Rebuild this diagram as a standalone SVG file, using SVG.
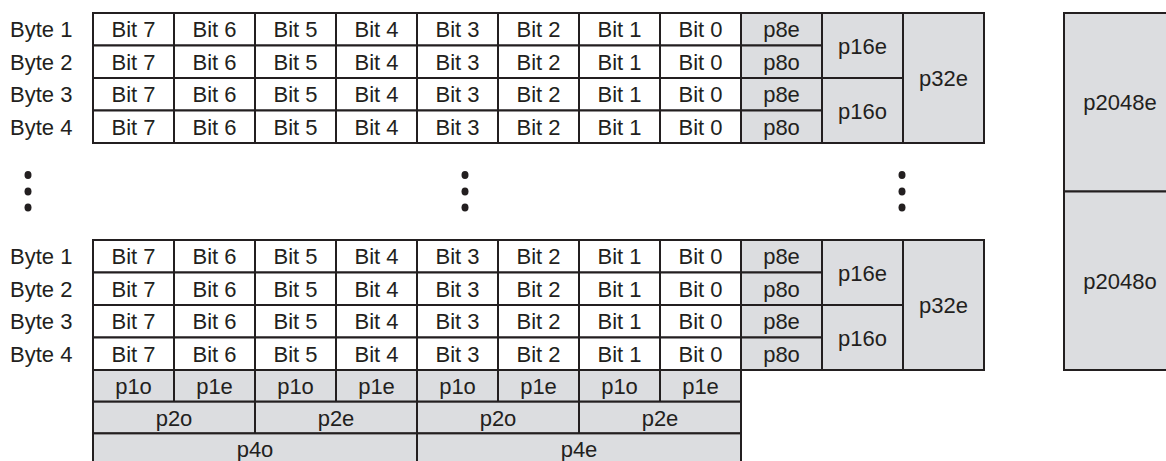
<svg xmlns="http://www.w3.org/2000/svg" width="1166" height="461" viewBox="0 0 1166 461">
<style>
.w{fill:#ffffff;stroke:#231f20;stroke-width:2}
.g{fill:#dcdde0;stroke:#231f20;stroke-width:2}
text{font-family:"Liberation Sans",Arial,sans-serif;font-size:22px;fill:#231f20}
.c{text-anchor:middle}
.d{fill:#231f20}
</style>
<rect width="1166" height="461" fill="#ffffff"/>
<g id="labels-top">
<text x="10" y="37.25">Byte 1</text>
<text x="10" y="69.75">Byte 2</text>
<text x="10" y="102.25">Byte 3</text>
<text x="10" y="134.75">Byte 4</text>
</g>
<g id="labels-bottom">
<text x="10" y="264.25">Byte 1</text>
<text x="10" y="296.75">Byte 2</text>
<text x="10" y="329.25">Byte 3</text>
<text x="10" y="361.75">Byte 4</text>
</g>
<g id="bits-top">
<rect class="w" x="93" y="13" width="81" height="32.5"/><rect class="w" x="174" y="13" width="81" height="32.5"/><rect class="w" x="255" y="13" width="81" height="32.5"/><rect class="w" x="336" y="13" width="81" height="32.5"/><rect class="w" x="417" y="13" width="81" height="32.5"/><rect class="w" x="498" y="13" width="81" height="32.5"/><rect class="w" x="579" y="13" width="81" height="32.5"/><rect class="w" x="660" y="13" width="81" height="32.5"/>
<rect class="w" x="93" y="45.5" width="81" height="32.5"/><rect class="w" x="174" y="45.5" width="81" height="32.5"/><rect class="w" x="255" y="45.5" width="81" height="32.5"/><rect class="w" x="336" y="45.5" width="81" height="32.5"/><rect class="w" x="417" y="45.5" width="81" height="32.5"/><rect class="w" x="498" y="45.5" width="81" height="32.5"/><rect class="w" x="579" y="45.5" width="81" height="32.5"/><rect class="w" x="660" y="45.5" width="81" height="32.5"/>
<rect class="w" x="93" y="78" width="81" height="32.5"/><rect class="w" x="174" y="78" width="81" height="32.5"/><rect class="w" x="255" y="78" width="81" height="32.5"/><rect class="w" x="336" y="78" width="81" height="32.5"/><rect class="w" x="417" y="78" width="81" height="32.5"/><rect class="w" x="498" y="78" width="81" height="32.5"/><rect class="w" x="579" y="78" width="81" height="32.5"/><rect class="w" x="660" y="78" width="81" height="32.5"/>
<rect class="w" x="93" y="110.5" width="81" height="32.5"/><rect class="w" x="174" y="110.5" width="81" height="32.5"/><rect class="w" x="255" y="110.5" width="81" height="32.5"/><rect class="w" x="336" y="110.5" width="81" height="32.5"/><rect class="w" x="417" y="110.5" width="81" height="32.5"/><rect class="w" x="498" y="110.5" width="81" height="32.5"/><rect class="w" x="579" y="110.5" width="81" height="32.5"/><rect class="w" x="660" y="110.5" width="81" height="32.5"/>
<text class="c" x="133.5" y="37.25">Bit 7</text><text class="c" x="214.5" y="37.25">Bit 6</text><text class="c" x="295.5" y="37.25">Bit 5</text><text class="c" x="376.5" y="37.25">Bit 4</text><text class="c" x="457.5" y="37.25">Bit 3</text><text class="c" x="538.5" y="37.25">Bit 2</text><text class="c" x="619.5" y="37.25">Bit 1</text><text class="c" x="700.5" y="37.25">Bit 0</text>
<text class="c" x="133.5" y="69.75">Bit 7</text><text class="c" x="214.5" y="69.75">Bit 6</text><text class="c" x="295.5" y="69.75">Bit 5</text><text class="c" x="376.5" y="69.75">Bit 4</text><text class="c" x="457.5" y="69.75">Bit 3</text><text class="c" x="538.5" y="69.75">Bit 2</text><text class="c" x="619.5" y="69.75">Bit 1</text><text class="c" x="700.5" y="69.75">Bit 0</text>
<text class="c" x="133.5" y="102.25">Bit 7</text><text class="c" x="214.5" y="102.25">Bit 6</text><text class="c" x="295.5" y="102.25">Bit 5</text><text class="c" x="376.5" y="102.25">Bit 4</text><text class="c" x="457.5" y="102.25">Bit 3</text><text class="c" x="538.5" y="102.25">Bit 2</text><text class="c" x="619.5" y="102.25">Bit 1</text><text class="c" x="700.5" y="102.25">Bit 0</text>
<text class="c" x="133.5" y="134.75">Bit 7</text><text class="c" x="214.5" y="134.75">Bit 6</text><text class="c" x="295.5" y="134.75">Bit 5</text><text class="c" x="376.5" y="134.75">Bit 4</text><text class="c" x="457.5" y="134.75">Bit 3</text><text class="c" x="538.5" y="134.75">Bit 2</text><text class="c" x="619.5" y="134.75">Bit 1</text><text class="c" x="700.5" y="134.75">Bit 0</text>
</g>
<g id="parity-top">
<rect class="g" x="741" y="13" width="81" height="32.5"/><rect class="g" x="741" y="45.5" width="81" height="32.5"/><rect class="g" x="741" y="78" width="81" height="32.5"/><rect class="g" x="741" y="110.5" width="81" height="32.5"/>
<rect class="g" x="822" y="13" width="81" height="65"/><rect class="g" x="822" y="78" width="81" height="65"/>
<rect class="g" x="903" y="13" width="81" height="130"/>
<text class="c" x="781.5" y="37.25">p8e</text><text class="c" x="781.5" y="69.75">p8o</text><text class="c" x="781.5" y="102.25">p8e</text><text class="c" x="781.5" y="134.75">p8o</text>
<text class="c" x="862.5" y="53.5">p16e</text><text class="c" x="862.5" y="118.5">p16o</text>
<text class="c" x="943.5" y="86">p32e</text>
</g>
<g id="bits-bottom">
<rect class="w" x="93" y="240" width="81" height="32.5"/><rect class="w" x="174" y="240" width="81" height="32.5"/><rect class="w" x="255" y="240" width="81" height="32.5"/><rect class="w" x="336" y="240" width="81" height="32.5"/><rect class="w" x="417" y="240" width="81" height="32.5"/><rect class="w" x="498" y="240" width="81" height="32.5"/><rect class="w" x="579" y="240" width="81" height="32.5"/><rect class="w" x="660" y="240" width="81" height="32.5"/>
<rect class="w" x="93" y="272.5" width="81" height="32.5"/><rect class="w" x="174" y="272.5" width="81" height="32.5"/><rect class="w" x="255" y="272.5" width="81" height="32.5"/><rect class="w" x="336" y="272.5" width="81" height="32.5"/><rect class="w" x="417" y="272.5" width="81" height="32.5"/><rect class="w" x="498" y="272.5" width="81" height="32.5"/><rect class="w" x="579" y="272.5" width="81" height="32.5"/><rect class="w" x="660" y="272.5" width="81" height="32.5"/>
<rect class="w" x="93" y="305" width="81" height="32.5"/><rect class="w" x="174" y="305" width="81" height="32.5"/><rect class="w" x="255" y="305" width="81" height="32.5"/><rect class="w" x="336" y="305" width="81" height="32.5"/><rect class="w" x="417" y="305" width="81" height="32.5"/><rect class="w" x="498" y="305" width="81" height="32.5"/><rect class="w" x="579" y="305" width="81" height="32.5"/><rect class="w" x="660" y="305" width="81" height="32.5"/>
<rect class="w" x="93" y="337.5" width="81" height="32.5"/><rect class="w" x="174" y="337.5" width="81" height="32.5"/><rect class="w" x="255" y="337.5" width="81" height="32.5"/><rect class="w" x="336" y="337.5" width="81" height="32.5"/><rect class="w" x="417" y="337.5" width="81" height="32.5"/><rect class="w" x="498" y="337.5" width="81" height="32.5"/><rect class="w" x="579" y="337.5" width="81" height="32.5"/><rect class="w" x="660" y="337.5" width="81" height="32.5"/>
<text class="c" x="133.5" y="264.25">Bit 7</text><text class="c" x="214.5" y="264.25">Bit 6</text><text class="c" x="295.5" y="264.25">Bit 5</text><text class="c" x="376.5" y="264.25">Bit 4</text><text class="c" x="457.5" y="264.25">Bit 3</text><text class="c" x="538.5" y="264.25">Bit 2</text><text class="c" x="619.5" y="264.25">Bit 1</text><text class="c" x="700.5" y="264.25">Bit 0</text>
<text class="c" x="133.5" y="296.75">Bit 7</text><text class="c" x="214.5" y="296.75">Bit 6</text><text class="c" x="295.5" y="296.75">Bit 5</text><text class="c" x="376.5" y="296.75">Bit 4</text><text class="c" x="457.5" y="296.75">Bit 3</text><text class="c" x="538.5" y="296.75">Bit 2</text><text class="c" x="619.5" y="296.75">Bit 1</text><text class="c" x="700.5" y="296.75">Bit 0</text>
<text class="c" x="133.5" y="329.25">Bit 7</text><text class="c" x="214.5" y="329.25">Bit 6</text><text class="c" x="295.5" y="329.25">Bit 5</text><text class="c" x="376.5" y="329.25">Bit 4</text><text class="c" x="457.5" y="329.25">Bit 3</text><text class="c" x="538.5" y="329.25">Bit 2</text><text class="c" x="619.5" y="329.25">Bit 1</text><text class="c" x="700.5" y="329.25">Bit 0</text>
<text class="c" x="133.5" y="361.75">Bit 7</text><text class="c" x="214.5" y="361.75">Bit 6</text><text class="c" x="295.5" y="361.75">Bit 5</text><text class="c" x="376.5" y="361.75">Bit 4</text><text class="c" x="457.5" y="361.75">Bit 3</text><text class="c" x="538.5" y="361.75">Bit 2</text><text class="c" x="619.5" y="361.75">Bit 1</text><text class="c" x="700.5" y="361.75">Bit 0</text>
</g>
<g id="parity-bottom">
<rect class="g" x="741" y="240" width="81" height="32.5"/><rect class="g" x="741" y="272.5" width="81" height="32.5"/><rect class="g" x="741" y="305" width="81" height="32.5"/><rect class="g" x="741" y="337.5" width="81" height="32.5"/>
<rect class="g" x="822" y="240" width="81" height="65"/><rect class="g" x="822" y="305" width="81" height="65"/>
<rect class="g" x="903" y="240" width="81" height="130"/>
<text class="c" x="781.5" y="264.25">p8e</text><text class="c" x="781.5" y="296.75">p8o</text><text class="c" x="781.5" y="329.25">p8e</text><text class="c" x="781.5" y="361.75">p8o</text>
<text class="c" x="862.5" y="280.5">p16e</text><text class="c" x="862.5" y="345.5">p16o</text>
<text class="c" x="943.5" y="313">p32e</text>
</g>
<g id="column-parity">
<rect class="g" x="93" y="370" width="81" height="31.7"/><rect class="g" x="174" y="370" width="81" height="31.7"/><rect class="g" x="255" y="370" width="81" height="31.7"/><rect class="g" x="336" y="370" width="81" height="31.7"/><rect class="g" x="417" y="370" width="81" height="31.7"/><rect class="g" x="498" y="370" width="81" height="31.7"/><rect class="g" x="579" y="370" width="81" height="31.7"/><rect class="g" x="660" y="370" width="81" height="31.7"/>
<rect class="g" x="93" y="401.7" width="162" height="31.7"/><rect class="g" x="255" y="401.7" width="162" height="31.7"/><rect class="g" x="417" y="401.7" width="162" height="31.7"/><rect class="g" x="579" y="401.7" width="162" height="31.7"/>
<rect class="g" x="93" y="433.4" width="324" height="40"/><rect class="g" x="417" y="433.4" width="324" height="40"/>
<text class="c" x="133.5" y="393.85">p1o</text><text class="c" x="214.5" y="393.85">p1e</text><text class="c" x="295.5" y="393.85">p1o</text><text class="c" x="376.5" y="393.85">p1e</text><text class="c" x="457.5" y="393.85">p1o</text><text class="c" x="538.5" y="393.85">p1e</text><text class="c" x="619.5" y="393.85">p1o</text><text class="c" x="700.5" y="393.85">p1e</text>
<text class="c" x="174" y="425.5">p2o</text><text class="c" x="336" y="425.5">p2e</text><text class="c" x="498" y="425.5">p2o</text><text class="c" x="660" y="425.5">p2e</text>
<text class="c" x="255" y="457.2">p4o</text><text class="c" x="579" y="457.2">p4e</text>
</g>
<g id="dots">
<ellipse class="d" cx="28" cy="175" rx="3.5" ry="4"/><ellipse class="d" cx="28" cy="191.5" rx="3.5" ry="4"/><ellipse class="d" cx="28" cy="207.5" rx="3.5" ry="4"/>
<ellipse class="d" cx="465" cy="175" rx="3.5" ry="4"/><ellipse class="d" cx="465" cy="191.5" rx="3.5" ry="4"/><ellipse class="d" cx="465" cy="207.5" rx="3.5" ry="4"/>
<ellipse class="d" cx="902" cy="175" rx="3.5" ry="4"/><ellipse class="d" cx="902" cy="191.5" rx="3.5" ry="4"/><ellipse class="d" cx="902" cy="207.5" rx="3.5" ry="4"/>
</g>
<g id="p2048">
<rect class="g" x="1064" y="13" width="120" height="178.5"/>
<rect class="g" x="1064" y="191.5" width="120" height="178.5"/>
<text class="c" x="1120" y="110">p2048e</text>
<text class="c" x="1120" y="288.5">p2048o</text>
</g>
<g id="connectors"></g>
</svg>
